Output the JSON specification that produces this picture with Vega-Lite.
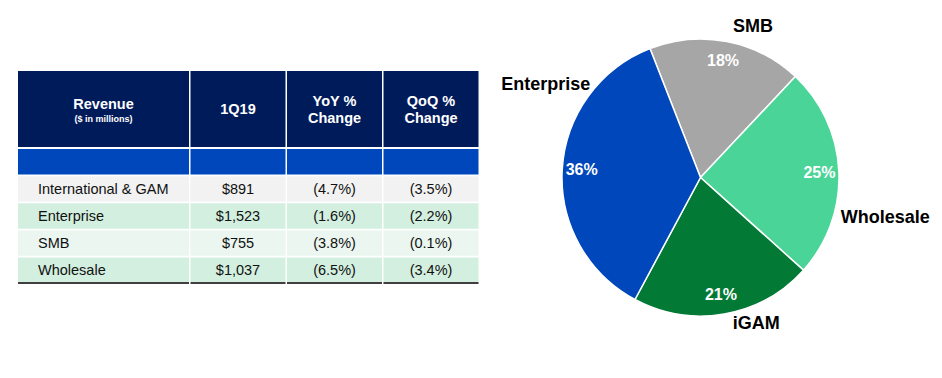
{
  "$schema": "https://vega.github.io/schema/vega-lite/v6.json",
  "background": "white",
  "padding": {"left": 17, "top": 12.5, "right": 0, "bottom": 0},
  "center": true,
  "spacing": 20.5,
  "resolve": {"scale": {"color": "independent"}},
  "config": {"view": {"stroke": null}, "font": "Liberation Sans", "text": {"font": "Liberation Sans"}},
  "datasets": {
    "headers": [
      {"col": "seg", "title": "Revenue", "sub": "($ in millions)"},
      {"col": "q", "title": "1Q19", "sub": ""},
      {"col": "yoy", "title": "YoY %\nChange", "sub": ""},
      {"col": "qoq", "title": "QoQ %\nChange", "sub": ""}
    ],
    "table": [
      {"seg": " ", "q": "", "yoy": "", "qoq": ""},
      {"seg": "International & GAM", "q": "$891", "yoy": "(4.7%)", "qoq": "(3.5%)"},
      {"seg": "Enterprise", "q": "$1,523", "yoy": "(1.6%)", "qoq": "(2.2%)"},
      {"seg": "SMB", "q": "$755", "yoy": "(3.8%)", "qoq": "(0.1%)"},
      {"seg": "Wholesale", "q": "$1,037", "yoy": "(6.5%)", "qoq": "(3.4%)"}
    ],
    "pie": [
      {"seg": "SMB", "rev": 755, "pct": "18%"},
      {"seg": "Wholesale", "rev": 1037, "pct": "25%"},
      {"seg": "iGAM", "rev": 891, "pct": "21%"},
      {"seg": "Enterprise", "rev": 1523, "pct": "36%"}
    ]
  },
  "hconcat": [
    {
      "columns": 4,
      "bounds": "flush",
      "spacing": {"row": 2, "column": 1.5},
      "resolve": {"scale": {"color": "independent"}},
      "concat": [
        {
          "width": 171, "height": 76,
          "data": {"name": "headers"},
          "transform": [{"filter": "datum.col === 'seg'"}],
          "view": {"fill": "#001B5A", "stroke": null},
          "layer": [
            {"mark": {"type": "text", "fontSize": 14.5, "fontWeight": "bold", "color": "white", "dy": -4.5}, "encoding": {"text": {"field": "title"}}},
            {"mark": {"type": "text", "fontSize": 9, "fontWeight": "bold", "color": "white", "dy": 10}, "encoding": {"text": {"field": "sub"}}}
          ]
        },
        {
          "width": 95, "height": 76,
          "data": {"name": "headers"},
          "transform": [{"filter": "datum.col === 'q'"}],
          "view": {"fill": "#001B5A", "stroke": null},
          "mark": {"type": "text", "fontSize": 14.5, "fontWeight": "bold", "color": "white", "dy": 1, "lineBreak": "\n", "lineHeight": 17.5},
          "encoding": {"text": {"field": "title"}}
        },
        {
          "width": 95, "height": 76,
          "data": {"name": "headers"},
          "transform": [{"filter": "datum.col === 'yoy'"}],
          "view": {"fill": "#001B5A", "stroke": null},
          "mark": {"type": "text", "fontSize": 14.5, "fontWeight": "bold", "color": "white", "dy": -7.3, "lineBreak": "\n", "lineHeight": 17.5},
          "encoding": {"text": {"field": "title"}}
        },
        {
          "width": 95, "height": 76,
          "data": {"name": "headers"},
          "transform": [{"filter": "datum.col === 'qoq'"}],
          "view": {"fill": "#001B5A", "stroke": null},
          "mark": {"type": "text", "fontSize": 14.5, "fontWeight": "bold", "color": "white", "dy": -7.3, "lineBreak": "\n", "lineHeight": 17.5},
          "encoding": {"text": {"field": "title"}}
        },
        {
          "width": 171, "height": 134,
          "data": {"name": "table"},
          "encoding": {"y": {"field": "seg", "type": "nominal", "axis": null, "scale": {"domain": [" ", "International & GAM", "Enterprise", "SMB", "Wholesale"], "paddingInner": 0.06, "paddingOuter": 0}}},
          "layer": [
            {"mark": {"type": "rect"}, "encoding": {"color": {"field": "seg", "type": "nominal", "legend": null, "scale": {"domain": [" ", "International & GAM", "Enterprise", "SMB", "Wholesale"], "range": ["#0047BB", "#F2F2F2", "#D3EFDF", "#EAF6EF", "#D3EFDF"]}}}},
            {"mark": {"type": "text", "align": "left", "fontSize": 14.5, "color": "#111111", "dy": 1}, "encoding": {"x": {"value": 20}, "text": {"field": "seg"}}},
            {"transform": [{"filter": "datum.seg === 'Wholesale'"}], "mark": {"type": "rule", "color": "#404040", "strokeWidth": 2}, "encoding": {"y": {"field": "seg", "type": "nominal", "bandPosition": 1}}}
          ]
        },
        {
          "width": 95, "height": 134,
          "data": {"name": "table"},
          "encoding": {"y": {"field": "seg", "type": "nominal", "axis": null, "scale": {"domain": [" ", "International & GAM", "Enterprise", "SMB", "Wholesale"], "paddingInner": 0.06, "paddingOuter": 0}}},
          "layer": [
            {"mark": {"type": "rect"}, "encoding": {"color": {"field": "seg", "type": "nominal", "legend": null, "scale": {"domain": [" ", "International & GAM", "Enterprise", "SMB", "Wholesale"], "range": ["#0047BB", "#F2F2F2", "#D3EFDF", "#EAF6EF", "#D3EFDF"]}}}},
            {"mark": {"type": "text", "fontSize": 14.5, "color": "#111111", "dy": 1}, "encoding": {"text": {"field": "q"}}},
            {"transform": [{"filter": "datum.seg === 'Wholesale'"}], "mark": {"type": "rule", "color": "#404040", "strokeWidth": 2}, "encoding": {"y": {"field": "seg", "type": "nominal", "bandPosition": 1}}}
          ]
        },
        {
          "width": 95, "height": 134,
          "data": {"name": "table"},
          "encoding": {"y": {"field": "seg", "type": "nominal", "axis": null, "scale": {"domain": [" ", "International & GAM", "Enterprise", "SMB", "Wholesale"], "paddingInner": 0.06, "paddingOuter": 0}}},
          "layer": [
            {"mark": {"type": "rect"}, "encoding": {"color": {"field": "seg", "type": "nominal", "legend": null, "scale": {"domain": [" ", "International & GAM", "Enterprise", "SMB", "Wholesale"], "range": ["#0047BB", "#F2F2F2", "#D3EFDF", "#EAF6EF", "#D3EFDF"]}}}},
            {"mark": {"type": "text", "fontSize": 14.5, "color": "#111111", "dy": 1}, "encoding": {"text": {"field": "yoy"}}},
            {"transform": [{"filter": "datum.seg === 'Wholesale'"}], "mark": {"type": "rule", "color": "#404040", "strokeWidth": 2}, "encoding": {"y": {"field": "seg", "type": "nominal", "bandPosition": 1}}}
          ]
        },
        {
          "width": 95, "height": 134,
          "data": {"name": "table"},
          "encoding": {"y": {"field": "seg", "type": "nominal", "axis": null, "scale": {"domain": [" ", "International & GAM", "Enterprise", "SMB", "Wholesale"], "paddingInner": 0.06, "paddingOuter": 0}}},
          "layer": [
            {"mark": {"type": "rect"}, "encoding": {"color": {"field": "seg", "type": "nominal", "legend": null, "scale": {"domain": [" ", "International & GAM", "Enterprise", "SMB", "Wholesale"], "range": ["#0047BB", "#F2F2F2", "#D3EFDF", "#EAF6EF", "#D3EFDF"]}}}},
            {"mark": {"type": "text", "fontSize": 14.5, "color": "#111111", "dy": 1}, "encoding": {"text": {"field": "qoq"}}},
            {"transform": [{"filter": "datum.seg === 'Wholesale'"}], "mark": {"type": "rule", "color": "#404040", "strokeWidth": 2}, "encoding": {"y": {"field": "seg", "type": "nominal", "bandPosition": 1}}}
          ]
        }
      ]
    },
    {
      "width": 330, "height": 330,
      "data": {"name": "pie"},
      "encoding": {
        "theta": {"field": "rev", "type": "quantitative", "stack": true, "scale": {"range": [-2.6487, 3.6345]}},
        "order": {"field": "seg", "type": "nominal", "sort": "ascending"}
      },
      "layer": [
        {"mark": {"type": "arc", "radius": 138.5, "stroke": "white", "strokeWidth": 1.5}, "encoding": {"color": {"field": "seg", "type": "nominal", "legend": null, "scale": {"domain": ["Enterprise", "SMB", "Wholesale", "iGAM"], "range": ["#0047BB", "#A6A6A6", "#4BD498", "#027A35"]}}}},
        {"mark": {"type": "text", "radius": 119, "fontSize": 16, "fontWeight": "bold", "color": "white"}, "encoding": {"text": {"field": "pct"}}},
        {"mark": {"type": "text", "radius": 150, "fontSize": 18, "fontWeight": "bold", "color": "black",
          "dx": {"expr": "datum.seg === 'SMB' ? 24 : datum.seg === 'Wholesale' ? 35 : datum.seg === 'iGAM' ? 30 : -5"},
          "dy": {"expr": "datum.seg === 'SMB' ? -3 : datum.seg === 'Wholesale' ? 47 : datum.seg === 'iGAM' ? -1 : -84"}},
         "encoding": {"text": {"field": "seg"}}}
      ]
    }
  ]
}
